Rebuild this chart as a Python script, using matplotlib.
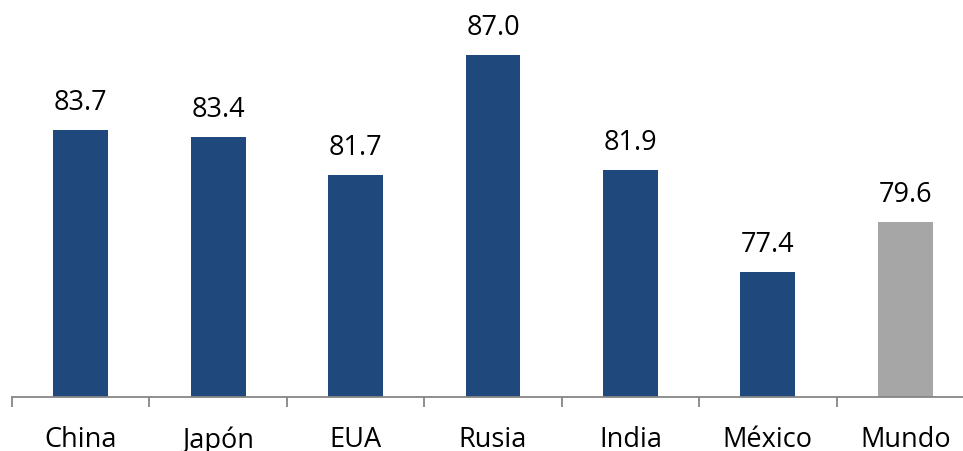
import numpy as np
import matplotlib
matplotlib.use('Agg')
import matplotlib.pyplot as plt

paises = ['China', 'Japón', 'EUA', 'Rusia', 'India', 'México', 'Mundo']
valores = [83.7, 83.4, 81.7, 87.0, 81.9, 77.4, 79.6]
colores = ['#1F497D'] * 6 + ['#A6A6A6']

plt.rcParams['font.family'] = ['Open Sans', 'DejaVu Sans']

fig = plt.figure(figsize=(9.63, 4.51), dpi=100)
W, H = 963, 451
ax = fig.add_axes([12 / W, (H - 397) / H, 962 / W, 405 / H])

x = np.arange(len(paises))
ax.bar(x, valores, width=0.4, color=colores, zorder=2)

# etiquetas de valor encima de cada barra
for i, v in enumerate(valores):
    ax.annotate(f"{v:.1f}", (i, v), xytext=(0, 14.4), textcoords='offset points',
                ha='center', va='baseline', fontsize=19.5, color='black')

ax.set_xlim(-0.5, len(paises) - 0.5)
ax.set_ylim(71.87, 89.8)
ax.set_yticks([])
for s in ['left', 'right', 'top']:
    ax.spines[s].set_visible(False)
ax.spines['bottom'].set_color('#868686')
ax.spines['bottom'].set_linewidth(1.3)

ax.set_xticks(x)
ax.set_xticklabels(paises, fontsize=19.5)
ax.tick_params(axis='x', which='major', length=0, pad=21)
ax.set_xticks(np.arange(-0.5, len(paises) + 0.5, 1), minor=True)
ax.tick_params(axis='x', which='minor', length=7, width=1.3, color='#868686')

fig.savefig('out.png', dpi=100)
